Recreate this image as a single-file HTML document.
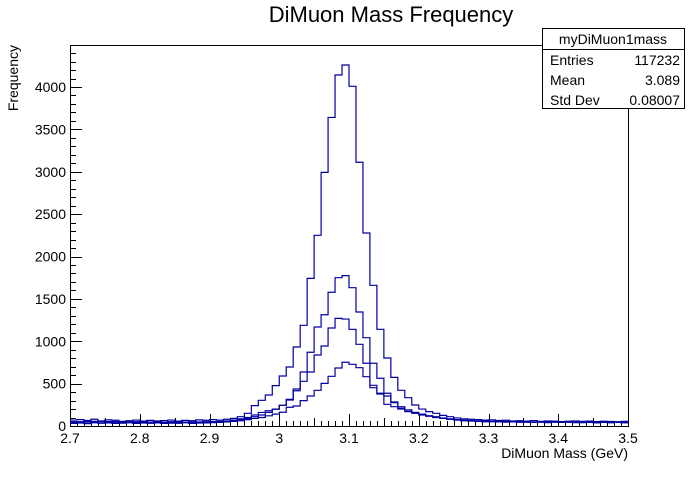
<!DOCTYPE html>
<html><head><meta charset="utf-8"><style>
body{margin:0;background:#fff;}
svg text{font-family:"Liberation Sans",sans-serif;}
</style></head><body>
<svg id="c" width="698" height="474" xmlns="http://www.w3.org/2000/svg">
<rect width="698" height="474" fill="#fff"/>
<text x="391" y="22" font-size="22" text-anchor="middle">DiMuon Mass Frequency</text>
<text x="628" y="458" font-size="14" text-anchor="end">DiMuon Mass (GeV)</text>
<text transform="translate(18,45) rotate(-90)" font-size="14" text-anchor="end">Frequency</text>
<g id="ax"></g>
<g id="hs"></g>
<g>
<rect x="542.5" y="28.5" width="142" height="80" fill="#fff" stroke="#000"/>
<line x1="542.5" y1="49.5" x2="684.5" y2="49.5" stroke="#000"/>
<text x="613" y="44" font-size="14" text-anchor="middle">myDiMuon1mass</text>
<text x="550" y="65" font-size="14">Entries</text><text x="680" y="65" font-size="14" text-anchor="end">117232</text>
<text x="550" y="85" font-size="14">Mean</text><text x="680" y="85" font-size="14" text-anchor="end">3.089</text>
<text x="550" y="105" font-size="14">Std Dev</text><text x="680" y="105" font-size="14" text-anchor="end">0.08007</text>
</g>
</svg>
<script>
const xTicks=["2.7","2.8","2.9","3","3.1","3.2","3.3","3.4","3.5"];
const yTicks=[0,500,1000,1500,2000,2500,3000,3500,4000];
const seriesA=[70,75,65,80,60,72,68,55,62,70,58,66,60,64,70,58,66,62,72,68,75,70,80,90,110,150,240,303,366,476,590,696,932,1188,1742,2250,2993,3641,4142,4260,4008,3112,2277,1660,1141,802,574,421,334,248,200,170,150,125,110,95,85,80,75,70,72,65,68,60,62,58,64,55,60,58,52,56,60,55,58,52,56,54,50,55];
const seriesB=[40,50,45,55,48,52,44,50,46,42,50,45,48,44,50,46,42,48,45,50,52,55,60,70,85,100,130,160,180,200,244,315,437,637,870,1168,1313,1578,1750,1774,1632,1345,1042,740,563,386,283,209,189,160,140,120,110,95,85,75,70,65,60,62,55,58,50,54,48,52,46,50,44,48,45,50,42,46,44,40,45,42,44,40];
const seriesC=[50,45,55,40,50,46,52,44,48,50,42,46,50,44,48,42,46,44,48,42,50,52,58,65,75,90,110,130,160,197,244,307,416,527,637,838,944,1156,1270,1262,1141,964,740,452,378,256,228,200,170,150,130,115,100,90,80,70,65,60,58,55,52,50,54,48,50,46,48,44,50,46,42,48,45,40,46,42,44,40,43,41];
const seriesD=[30,35,28,40,32,36,30,34,38,30,35,32,36,30,34,32,38,30,35,36,40,42,48,55,62,75,90,100,120,140,162,221,236,299,354,421,503,586,684,752,728,688,582,480,386,354,275,228,189,160,140,120,105,90,80,70,62,58,55,50,52,48,45,50,44,46,42,48,40,45,42,44,40,46,42,38,44,40,42,40];
const X0=70,X1=628,Y0=426,XMIN=2.7,XMAX=3.5,NB=80;
const sx=v=>X0+(v-XMIN)/(XMAX-XMIN)*(X1-X0);
const sy=v=>Y0-v*0.08475;
const NS="http://www.w3.org/2000/svg";
const ax=document.getElementById('ax'),hs=document.getElementById('hs');
function mk(t,a,p){const e=document.createElementNS(NS,t);for(const k in a)e.setAttribute(k,a[k]);p.appendChild(e);return e;}
const frame=mk('rect',{x:X0+.5,y:45.5,width:X1-X0,height:Y0-45,fill:'none',stroke:'#000'},ax);


let d='';
for(let i=0;i<=80;i++){const x=Math.round(sx(XMIN+i*0.01))+.5;const L=i%10==0?12:(i%5==0?8:5);d+=`M${x},${Y0}v${-L}`;}
for(let v=0;v<=4400;v+=100){const y=Math.round(sy(v))+.5;if(y<45)break;const L=v%500==0?12:6;d+=`M${X0},${y}h${L}`;}
const tk=mk('path',{d:d,stroke:'#000',fill:'none'},ax);


xTicks.forEach(t=>{const e=mk('text',{x:sx(parseFloat(t)),y:443,'font-size':14,'text-anchor':'middle'},ax);e.textContent=t;

});
yTicks.forEach(v=>{const e=mk('text',{x:X0-4,y:sy(v)+5,'font-size':14,'text-anchor':'end'},ax);e.textContent=v;

});
const bw=(XMAX-XMIN)/NB;
[seriesA,seriesB,seriesC,seriesD].forEach((s,k)=>{
 let p=`M${sx(XMIN)},${sy(s[0])}`;
 s.forEach((v,i)=>{p+=`L${sx(XMIN+i*bw)},${sy(v)}L${sx(XMIN+(i+1)*bw)},${sy(v)}`;});
 const e=mk('path',{d:p,fill:'none',stroke:'#0000a0','stroke-width':1.2},hs);
 
 
});
</script>
</body></html>
